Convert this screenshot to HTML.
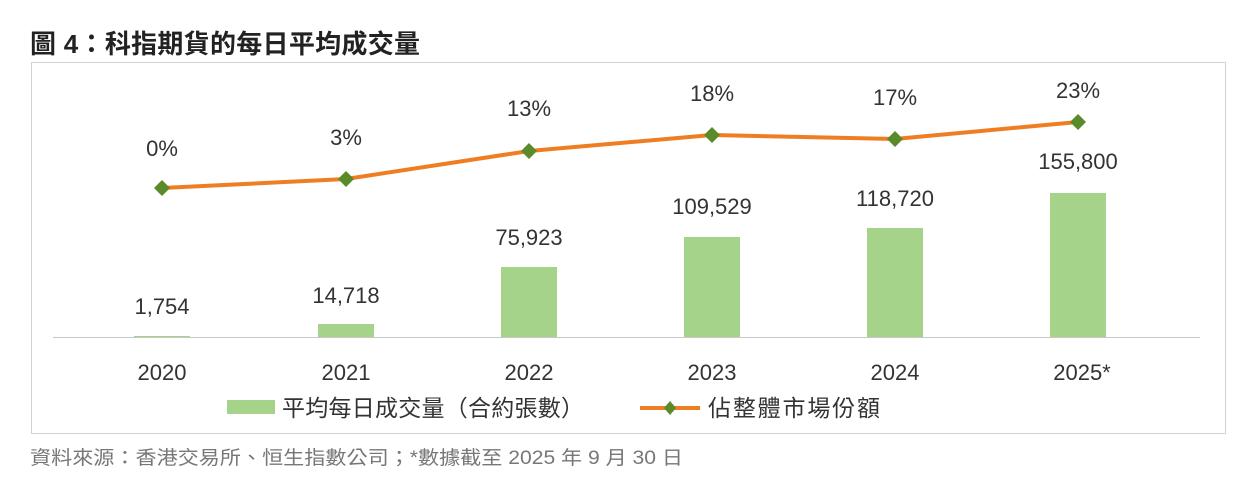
<!DOCTYPE html>
<html><head><meta charset="utf-8"><style>
body{margin:0;background:#fff;width:1260px;height:492px;overflow:hidden;font-family:"Liberation Sans","Noto Sans CJK TC",sans-serif}
</style></head><body>
<svg width="1260" height="492" xmlns="http://www.w3.org/2000/svg" font-family="'Liberation Sans','Noto Sans CJK TC',sans-serif">
<rect width="1260" height="492" fill="#fff"/>
<text x="30" y="53" font-size="26" font-weight="bold" fill="#222" textLength="390" lengthAdjust="spacing">圖 4：科指期貨的每日平均成交量</text>
<rect x="31.5" y="62.5" width="1194" height="371" fill="#fff" stroke="#cfd3d8"/>
<line x1="53" y1="337.5" x2="1200" y2="337.5" stroke="#c8c8c8"/>
<g fill="#a6d38a">
<rect x="134" y="336" width="56" height="1"/>
<rect x="318" y="324" width="56" height="13"/>
<rect x="501" y="267" width="56" height="70"/>
<rect x="684" y="237" width="56" height="100"/>
<rect x="867" y="228" width="56" height="109"/>
<rect x="1050" y="193" width="56" height="144"/>
</g>
<polyline points="162,188 346,179 529,151 712,135 895,139 1078,122" fill="none" stroke="#ef7d22" stroke-width="4"/>
<g fill="#5a8a2a">
<path d="M162,180 l8,8 -8,8 -8,-8z"/><path d="M346,171 l8,8 -8,8 -8,-8z"/><path d="M529,143 l8,8 -8,8 -8,-8z"/><path d="M712,127 l8,8 -8,8 -8,-8z"/><path d="M895,131 l8,8 -8,8 -8,-8z"/><path d="M1078,114 l8,8 -8,8 -8,-8z"/>
</g>
<g font-size="22" fill="#333" text-anchor="middle">
<text x="162" y="156">0%</text><text x="346" y="145">3%</text><text x="529" y="116">13%</text><text x="712" y="101">18%</text><text x="895" y="105">17%</text><text x="1078" y="98">23%</text>
<text x="162" y="314">1,754</text><text x="346" y="303">14,718</text><text x="529" y="245">75,923</text><text x="712" y="214">109,529</text><text x="895" y="206">118,720</text><text x="1078" y="169">155,800</text>
<text x="162" y="380">2020</text><text x="346" y="380">2021</text><text x="529" y="380">2022</text><text x="712" y="380">2023</text><text x="895" y="380">2024</text><text x="1082" y="380">2025*</text>
</g>
<rect x="227" y="400" width="48" height="14" fill="#a6d38a"/>
<text x="282" y="416" font-size="23" fill="#333" textLength="302" lengthAdjust="spacing">平均每日成交量（合約張數）</text>
<line x1="640" y1="408" x2="700" y2="408" stroke="#ef7d22" stroke-width="4"/>
<path d="M670,401 l6,7 -6,7 -6,-7z" fill="#5a8a2a"/>
<text x="708" y="416" font-size="23" fill="#333" textLength="172" lengthAdjust="spacing">佔整體市場份額</text>
<text x="30" y="464" font-size="19" fill="#777" textLength="653" lengthAdjust="spacingAndGlyphs">資料來源：香港交易所、恒生指數公司；*數據截至 2025 年 9 月 30 日</text>
</svg>
</body></html>
